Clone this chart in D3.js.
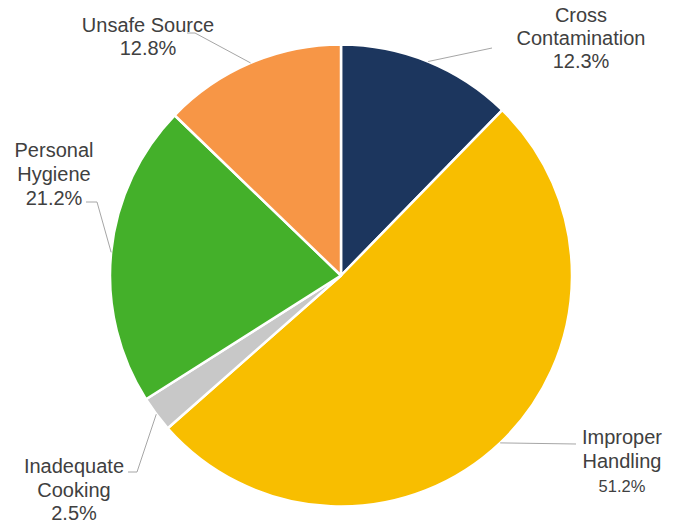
<!DOCTYPE html>
<html>
<head>
<meta charset="utf-8">
<script src="https://cdn.jsdelivr.net/npm/d3@7"></script>
<style>
    body { margin: 0; background: #fff; }
    svg { display: block; font-family: "Liberation Sans", Arial, sans-serif; }
</style>
</head>
<body>
<div id="pie-chart"></div>
<script>
// Data
const categories = ['Cross Contamination', 'Improper Handling', 'Inadequate Cooking', 'Personal Hygiene', 'Unsafe Source'];
const shares = [12.3, 51.2, 2.5, 21.2, 12.8];
const sliceColors = ['#1c365e', '#f8be00', '#c8c8c8', '#44b02a', '#f79646'];

// Label layout: text lines, anchor x, first baseline, line gap, leader elbow points
const labelLayout = [
    { lines: ['Cross', 'Contamination'], x: 581, y: 22, gap: 23, pct: 20, leader: [[492, 48]] },
    { lines: ['Improper', 'Handling'], x: 622, y: 444, gap: 24, pct: 16.5, leader: [[576, 444]] },
    { lines: ['Inadequate', 'Cooking'], x: 74, y: 473, gap: 23.5, pct: 20, leader: [[137, 472], [128, 472]] },
    { lines: ['Personal', 'Hygiene'], x: 54, y: 157, gap: 24, pct: 20, leader: [[97, 202], [86, 202]] },
    { lines: ['Unsafe Source'], x: 148, y: 32, gap: 23, pct: 20, leader: [[195, 33], [187, 33]] }
];

const width = 681, height = 525;
const cx = 341, cy = 275.5, radius = 231;

const svg = d3.select('#pie-chart')
    .append('svg')
    .attr('width', width)
    .attr('height', height);

const data = categories.map((c, i) => ({ name: c, value: shares[i], color: sliceColors[i], layout: labelLayout[i] }));

const pie = d3.pie()
    .sort(null)
    .value(d => d.value);

const arc = d3.arc()
    .innerRadius(0)
    .outerRadius(radius);

const g = svg.append('g')
    .attr('transform', `translate(${cx}, ${cy})`);

const arcs = pie(data);

g.selectAll('path.slice')
    .data(arcs)
    .enter()
    .append('path')
    .attr('class', 'slice')
    .attr('d', arc)
    .attr('fill', d => d.data.color)
    .attr('stroke', '#fff')
    .attr('stroke-width', 2.5)
    .attr('stroke-linejoin', 'round');

// Leader lines start at the slice's mid-angle on the rim
const line = d3.line();
svg.selectAll('path.leader')
    .data(arcs)
    .enter()
    .append('path')
    .attr('class', 'leader')
    .attr('d', d => {
        const a = (d.startAngle + d.endAngle) / 2;
        const start = [cx + radius * Math.sin(a), cy - radius * Math.cos(a)];
        return line([start, ...d.data.layout.leader]);
    })
    .attr('fill', 'none')
    .attr('stroke', '#a6a6a6')
    .attr('stroke-width', 1);

// Labels
const labels = svg.selectAll('text.label')
    .data(arcs)
    .enter()
    .append('text')
    .attr('class', 'label')
    .attr('text-anchor', 'middle')
    .attr('fill', '#404040');

labels.each(function(d) {
    const t = d3.select(this);
    const L = d.data.layout;
    L.lines.forEach((s, i) => {
        t.append('tspan')
            .attr('x', L.x)
            .attr('y', L.y + i * L.gap)
            .style('font-size', '20px')
            .text(s);
    });
    t.append('tspan')
        .attr('x', L.x)
        .attr('y', L.y + L.lines.length * L.gap)
        .style('font-size', L.pct + 'px')
        .text(d.data.value.toFixed(1) + '%');
});
</script>
</body>
</html>
